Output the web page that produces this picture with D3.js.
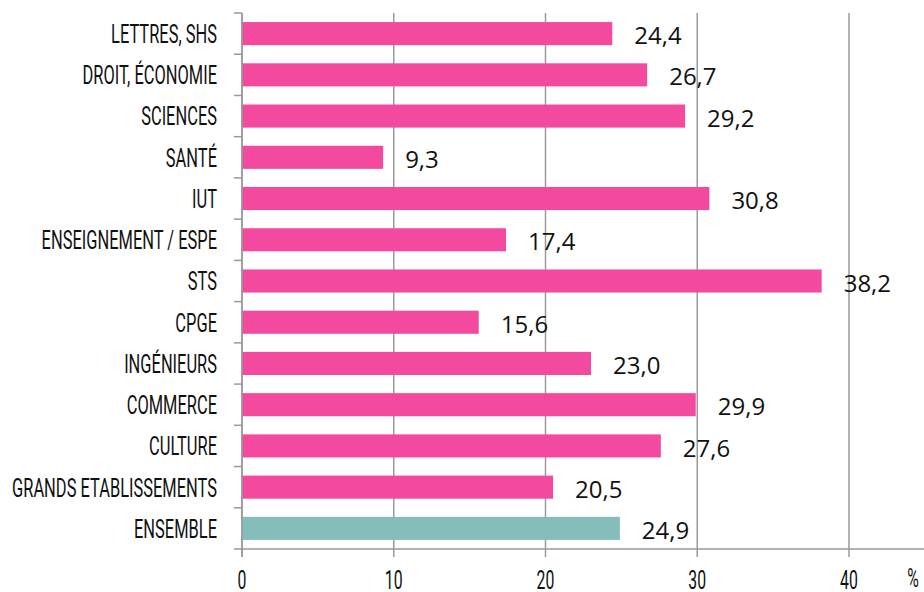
<!DOCTYPE html>
<html>
<head>
<meta charset="utf-8">
<script src="https://cdn.jsdelivr.net/npm/d3@7"></script>
<style>
  body { margin: 0; background: #fff; }
  .cond { font-family: Roboto, "Liberation Sans", sans-serif; font-size: 26px; fill: #111; }
  .val { font-family: "Open Sans", "Noto Sans", sans-serif; font-size: 24px; fill: #111; }
</style>
</head>
<body>
<svg id="chart" width="924" height="592"></svg>
<script>
const categories = ["LETTRES, SHS", "DROIT, ÉCONOMIE", "SCIENCES", "SANTÉ", "IUT",
  "ENSEIGNEMENT / ESPE", "STS", "CPGE", "INGÉNIEURS", "COMMERCE", "CULTURE",
  "GRANDS ETABLISSEMENTS", "ENSEMBLE"];
const values = [24.4, 26.7, 29.2, 9.3, 30.8, 17.4, 38.2, 15.6, 23.0, 29.9, 27.6, 20.5, 24.9];
const xTicks = [0, 10, 20, 30, 40];
const highlight = "ENSEMBLE";

const svg = d3.select("#chart");
const plotLeft = 242, plotTop = 13, plotBottom = 549;
const gridColor = "#9a9a9a";

const x = d3.scaleLinear().domain([0, 40]).range([plotLeft, 849]);
const y = d3.scaleBand().domain(categories).range([plotTop, plotBottom]).paddingInner(0.44).paddingOuter(0.22);

// vertical gridlines with tick marks below the axis
svg.append("g").selectAll("line")
  .data(xTicks)
  .join("line")
  .attr("x1", d => x(d)).attr("x2", d => x(d))
  .attr("y1", plotTop).attr("y2", plotBottom + 8)
  .attr("stroke", gridColor).attr("stroke-width", 1.5);

// x axis line
svg.append("line")
  .attr("x1", plotLeft).attr("x2", 924).attr("y1", plotBottom).attr("y2", plotBottom)
  .attr("stroke", gridColor).attr("stroke-width", 1.5);

// y axis ticks at band boundaries
const bounds = d3.range(categories.length + 1).map(i => plotTop + i * (plotBottom - plotTop) / categories.length);
svg.append("g").selectAll("line")
  .data(bounds)
  .join("line")
  .attr("x1", plotLeft - 8).attr("x2", plotLeft)
  .attr("y1", d => d).attr("y2", d => d)
  .attr("stroke", gridColor).attr("stroke-width", 1.5);

// bars
svg.append("g").selectAll("rect")
  .data(categories)
  .join("rect")
  .attr("x", plotLeft)
  .attr("y", d => y(d))
  .attr("width", (d, i) => x(values[i]) - plotLeft)
  .attr("height", y.bandwidth())
  .attr("fill", d => d === highlight ? "#84bdb9" : "#f34a9f");

// category labels (narrowed to look like the condensed original font)
const catLabels = svg.append("g").selectAll("text")
  .data(categories)
  .join("text")
  .attr("class", "cond")
  .attr("x", 0)
  .attr("dy", "0.36em")
  .attr("text-anchor", "end")
  .text(d => d);

let widest = 0;
catLabels.each(function () { widest = Math.max(widest, this.getComputedTextLength()); });
const sx = 205 / widest;
catLabels.attr("transform", d => `translate(217,${y(d) + y.bandwidth() / 2}) scale(${sx},1)`);

// value labels
const fmt = v => v.toFixed(1).replace(".", ",");
svg.append("g").selectAll("text")
  .data(categories)
  .join("text")
  .attr("class", "val")
  .attr("x", (d, i) => x(values[i]) + 22)
  .attr("y", d => y(d) + y.bandwidth() / 2 + 2)
  .attr("dy", "0.36em")
  .text((d, i) => fmt(values[i]));

// x tick labels
svg.append("g").selectAll("text")
  .data(xTicks)
  .join("text")
  .attr("class", "cond")
  .attr("text-anchor", "middle")
  .style("font-size", "25px")
  .attr("transform", d => `translate(${x(d)},589) scale(${sx},1)`)
  .text(d => d);

svg.append("text")
  .attr("class", "cond")
  .attr("text-anchor", "middle")
  .style("font-size", "25px")
  .attr("transform", `translate(913,587) scale(${sx},1)`)
  .text("%");

// y axis line on top
svg.append("line")
  .attr("x1", plotLeft).attr("x2", plotLeft).attr("y1", plotTop).attr("y2", plotBottom + 8)
  .attr("stroke", gridColor).attr("stroke-width", 1.5);
</script>
</body>
</html>
